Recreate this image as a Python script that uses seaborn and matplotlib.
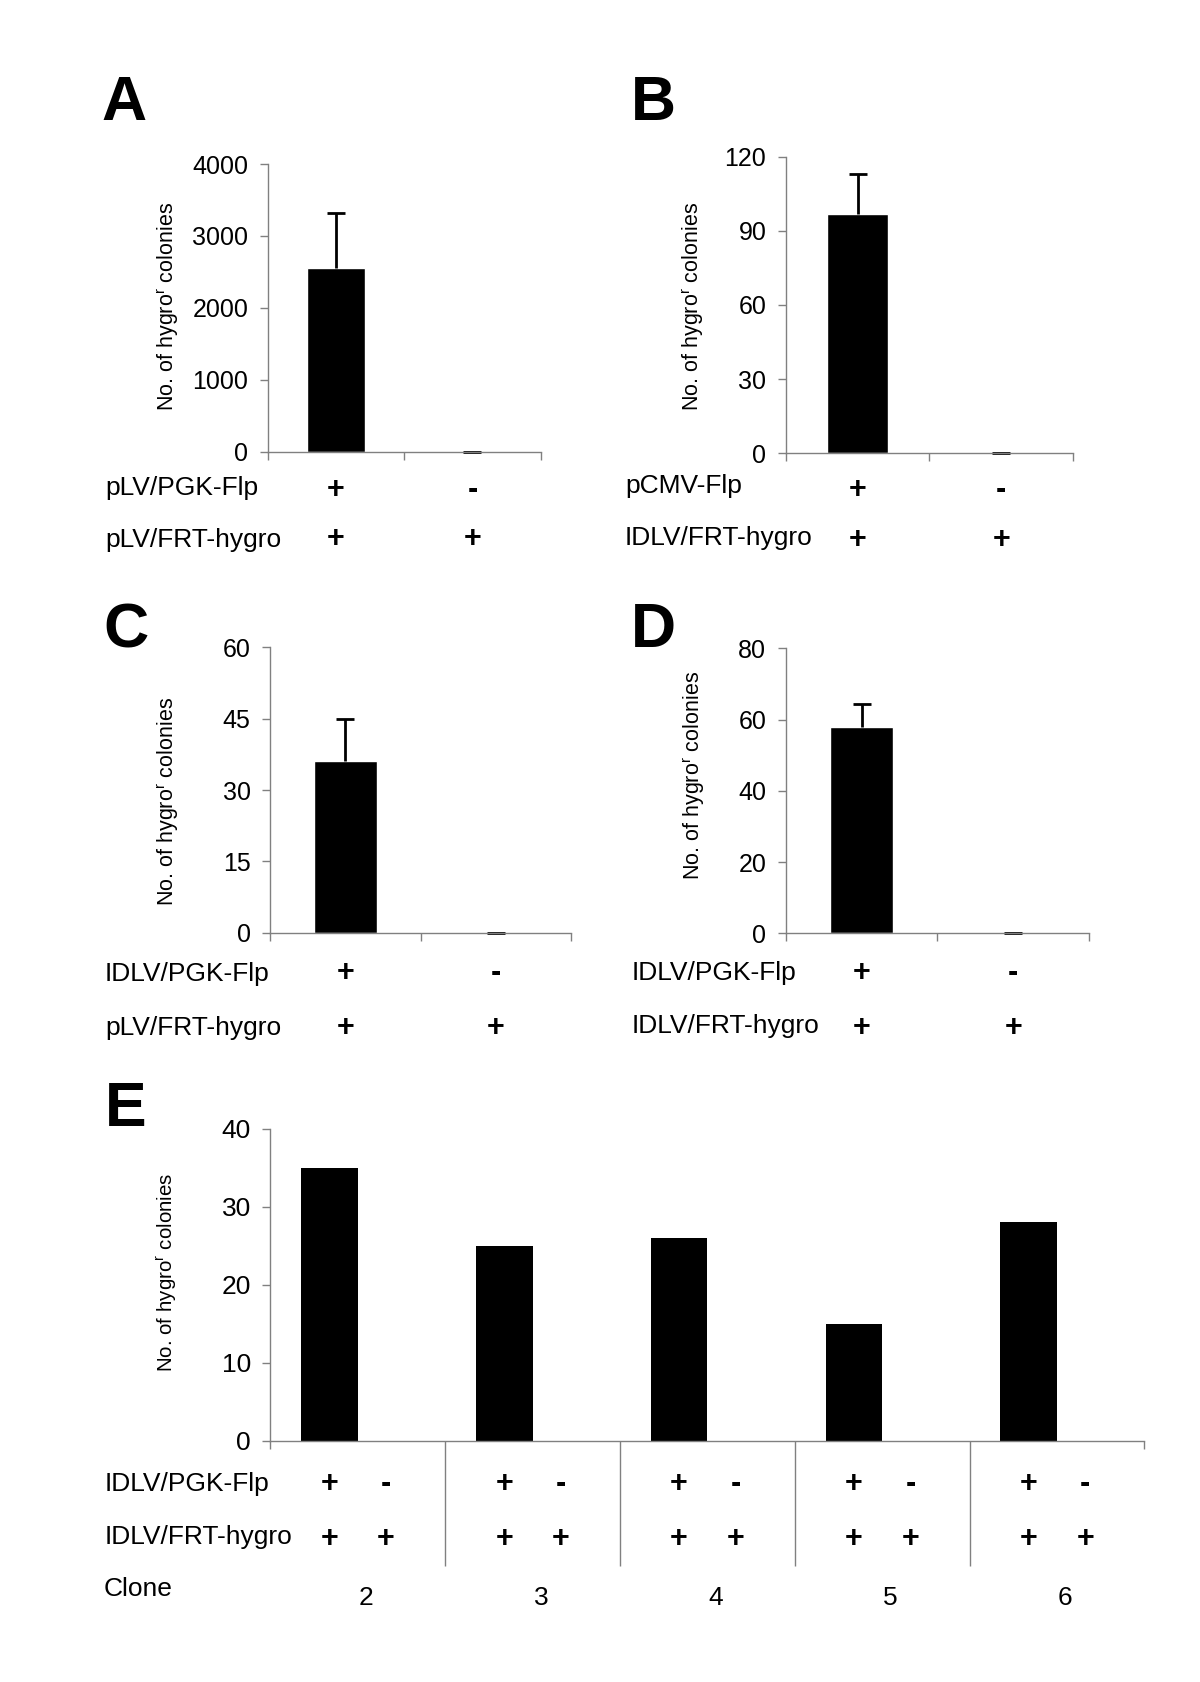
import matplotlib
matplotlib.use("Agg")
import matplotlib.pyplot as plt
import matplotlib.transforms as mtransforms
import numpy as np
import pandas as pd
import seaborn as sns

# ---- data ----
a_counts = [2550, 0]
a_err = [770, 0]
a_rows = ["pLV/PGK-Flp", "pLV/FRT-hygro"]
a_signs = [["+", "-"], ["+", "+"]]

b_counts = [97, 0]
b_err = [16, 0]
b_rows = ["pCMV-Flp", "IDLV/FRT-hygro"]
b_signs = [["+", "-"], ["+", "+"]]

c_counts = [36, 0]
c_err = [9, 0]
c_rows = ["IDLV/PGK-Flp", "pLV/FRT-hygro"]
c_signs = [["+", "-"], ["+", "+"]]

d_counts = [58, 0]
d_err = [6.5, 0]
d_rows = ["IDLV/PGK-Flp", "IDLV/FRT-hygro"]
d_signs = [["+", "-"], ["+", "+"]]

e_clones = ["2", "3", "4", "5", "6"]
e_flp_plus = [35, 25, 26, 15, 28]
e_flp_minus = [0, 0, 0, 0, 0]
e_rows = ["IDLV/PGK-Flp", "IDLV/FRT-hygro"]
e_signs = [["+", "-"], ["+", "+"]]

W, H = 1200, 1682
GRAY = "#808080"
YLABEL = "No. of hygro$^{\\mathregular{r}}$ colonies"

sns.set_style("ticks")
plt.rcParams["font.family"] = ["Liberation Sans", "DejaVu Sans"]
plt.rcParams["mathtext.fontset"] = "custom"
plt.rcParams["mathtext.rm"] = "Liberation Sans"
for key in ["text.color", "axes.labelcolor", "xtick.labelcolor", "ytick.labelcolor"]:
    plt.rcParams[key] = "black"

fig = plt.figure(figsize=(W / 100, H / 100), dpi=100)


def rect(left, top, right, bottom):
    return [left / W, 1 - bottom / H, (right - left) / W, (bottom - top) / H]


def fx(x):
    return x / W


def fy(y):
    return 1 - y / H


def style(ax, ymax, ystep, tsize):
    sns.despine(ax=ax)
    for s in ["left", "bottom"]:
        ax.spines[s].set_color(GRAY)
        ax.spines[s].set_linewidth(1.0)
    ax.set_ylim(0, ymax)
    ax.set_yticks(np.arange(0, ymax + ystep / 2, ystep))
    ax.tick_params(axis="y", length=6, width=1, color=GRAY, labelsize=tsize,
                   labelcolor="black", pad=8)
    ax.set_xlabel("")
    ax.set_ylabel("")


def panel_letter(letter, x, base):
    fig.text(fx(x), fy(base), letter, fontsize=45, fontweight="bold",
             color="black", va="baseline", ha="left")


def sign_rows(ax, xs, signs, rows, row_x, sign_ys, row_ys, size=19):
    tr = mtransforms.blended_transform_factory(ax.transData, fig.transFigure)
    for r, (label, sy, ry) in enumerate(zip(rows, sign_ys, row_ys)):
        fig.text(fx(row_x), fy(ry), label, fontsize=size, va="baseline", ha="left")
        for x, s in zip(xs, signs[r]):
            ax.text(x, fy(sy), s, transform=tr, fontsize=22, fontweight="bold",
                    ha="center", va="center")


def small_panel(box, counts, err, ymax, ystep, rows, signs, letter, letter_pos,
                ylab_pos, row_x, sign_ys, row_ys):
    ax = fig.add_axes(rect(*box))
    df = pd.DataFrame({"cond": ["with_flp", "without_flp"], "count": counts})
    sns.barplot(data=df, x="cond", y="count", color="black", saturation=1,
                width=0.42, errorbar=None, ax=ax)
    xs = np.arange(len(counts))
    tops = np.array(counts) + np.array(err)
    # upper-only error bars: stem from the bar top, single cap at the end
    ax.errorbar(xs, counts, yerr=[np.zeros(len(err)), err], fmt="none",
                ecolor="black", elinewidth=2, capsize=0)
    ax.plot(xs, tops, linestyle="none", marker="_", markersize=13.6,
            markeredgewidth=2, color="black", clip_on=False)
    style(ax, ymax, ystep, 18)
    ax.set_xlim(-0.5, len(counts) - 0.5)
    ax.set_xticks(np.arange(-0.5, len(counts), 1.0))
    ax.set_xticklabels([])
    ax.tick_params(axis="x", length=6, width=1, color=GRAY)
    fig.text(fx(ylab_pos[0]), fy(ylab_pos[1]), YLABEL, rotation=90,
             fontsize=15.5, ha="center", va="center")
    panel_letter(letter, *letter_pos)
    sign_rows(ax, xs, signs, rows, row_x, sign_ys, row_ys)
    return ax


small_panel((267.7, 164, 540.7, 451.7), a_counts, a_err, 4000, 1000, a_rows, a_signs,
            "A", (101, 120), (168, 306), 105, (490, 539), (495, 547))
small_panel((785.7, 156.7, 1073, 453.3), b_counts, b_err, 120, 30, b_rows, b_signs,
            "B", (631, 120), (693, 306), 625, (490, 540), (493, 545))
small_panel((270, 647.3, 571, 932.7), c_counts, c_err, 60, 15, c_rows, c_signs,
            "C", (103, 647), (168, 801), 105, (973, 1028), (981, 1035))
small_panel((785.7, 648.3, 1089, 933.3), d_counts, d_err, 80, 20, d_rows, d_signs,
            "D", (631, 647), (694, 775), 632, (973, 1028), (980, 1033))

# ---- panel E ----
ax = fig.add_axes(rect(270.4, 1128.9, 1144.3, 1440.7))
df_e = pd.DataFrame({
    "clone": e_clones + e_clones,
    "flp": ["plus"] * len(e_clones) + ["minus"] * len(e_clones),
    "count": e_flp_plus + e_flp_minus,
})
sns.barplot(data=df_e, x="clone", y="count", hue="flp", palette=["black", "black"],
            saturation=1, width=0.648, gap=0, errorbar=None, legend=False,
            linewidth=0, ax=ax)
style(ax, 40, 10, 19)
n = len(e_clones)
ax.set_xlim(-0.5, n - 0.5)
ax.set_xticks(np.arange(0.5, n - 1, 1.0))
ax.set_xticks([-0.5, n - 0.5], minor=True)
ax.set_xticklabels([])
ax.tick_params(axis="x", which="major", length=90, width=1, color=GRAY)
ax.tick_params(axis="x", which="minor", length=6, width=1, color=GRAY)
fig.text(fx(167), fy(1272), YLABEL, rotation=90, fontsize=14.8, ha="center", va="center")
panel_letter("E", 104.5, 1126.4)

centers = sorted(p.get_x() + p.get_width() / 2 for p in ax.patches)
tr = mtransforms.blended_transform_factory(ax.transData, fig.transFigure)
for r, (label, sy, ry) in enumerate(zip(e_rows, (1483.6, 1539), (1490.7, 1544.3))):
    fig.text(fx(104.3), fy(ry), label, fontsize=19, va="baseline", ha="left")
    for k, x in enumerate(centers):
        ax.text(x, fy(sy), e_signs[r][k % 2], transform=tr, fontsize=22,
                fontweight="bold", ha="center", va="center")
fig.text(fx(103.2), fy(1596), "Clone", fontsize=19, va="baseline", ha="left")
for i, c in enumerate(e_clones):
    ax.annotate(c, xy=(i, fy(1605)), xycoords=tr, xytext=(6, 0),
                textcoords="offset points", fontsize=19, ha="center", va="baseline")

fig.savefig("out.png", dpi=100, facecolor="white")
